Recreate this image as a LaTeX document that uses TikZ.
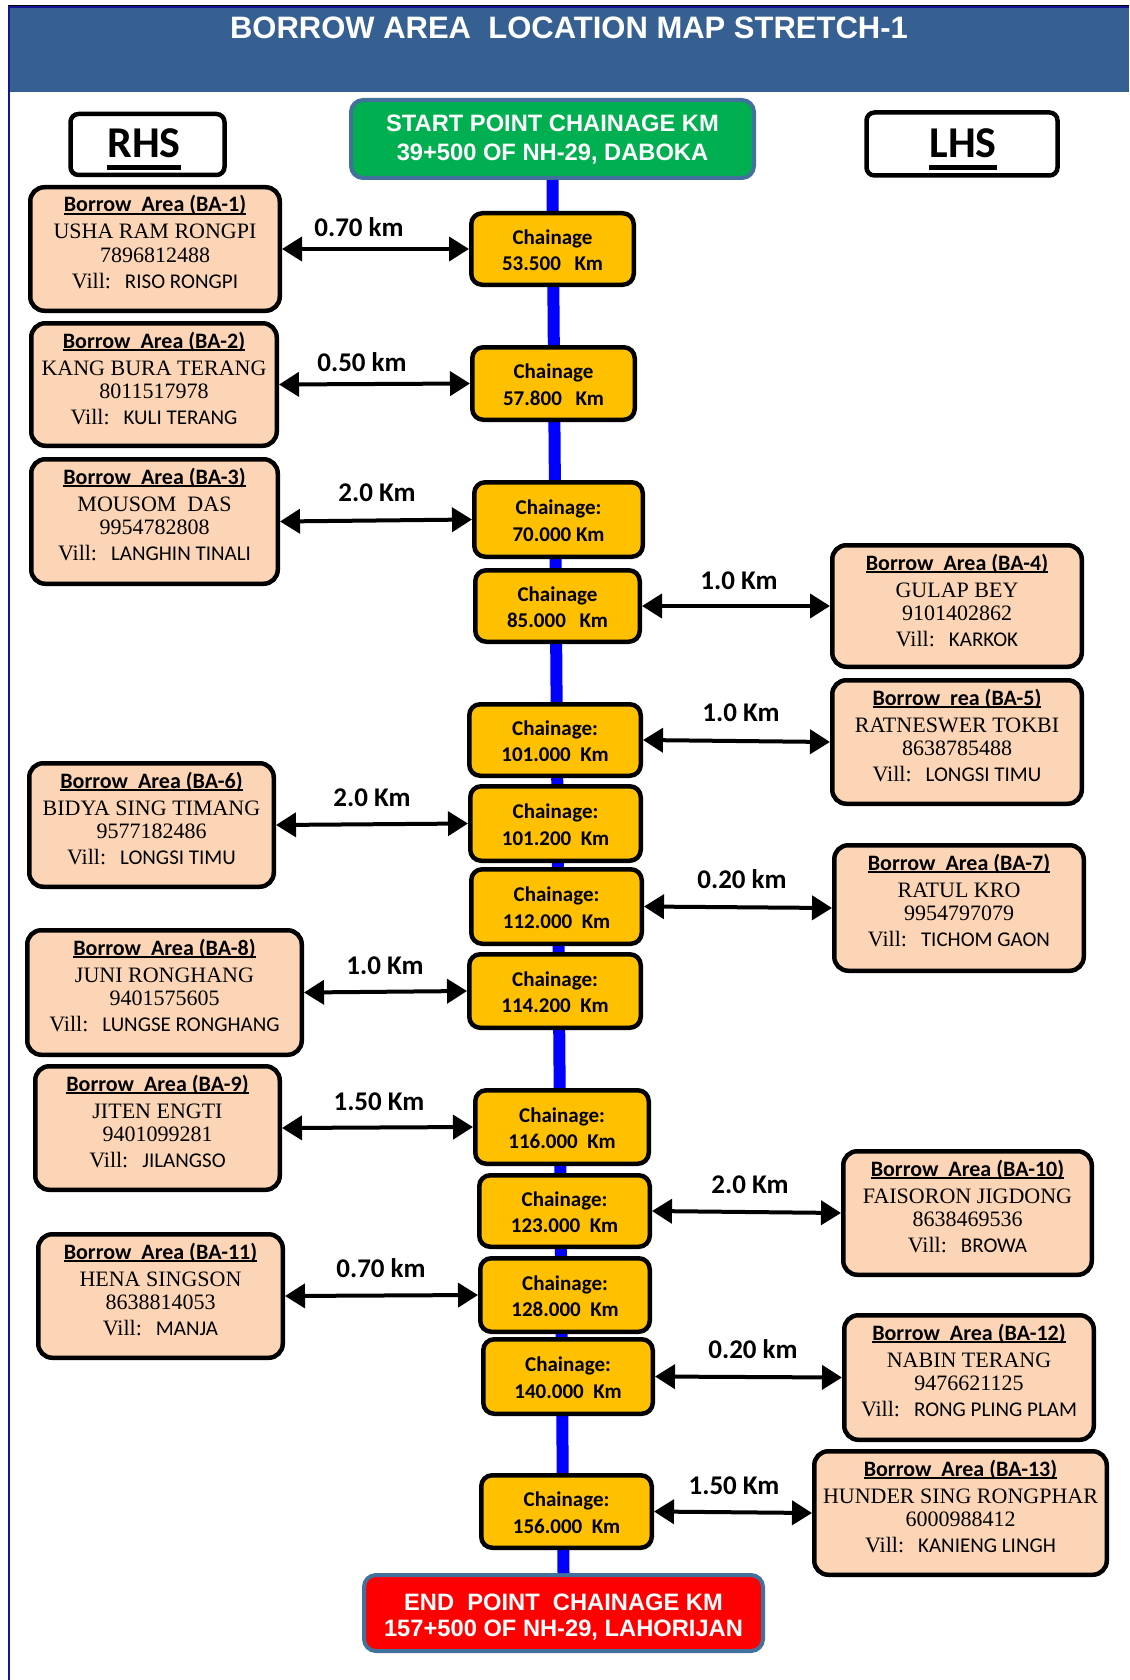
\documentclass[tikz,border=0pt]{standalone}
\usepackage{fontspec}
\setmainfont{Liberation Serif}
\newfontfamily\calib{Carlito}
\newfontfamily\arialf{Liberation Sans}
\usetikzlibrary{arrows.meta}
\definecolor{hdr}{RGB}{55,96,146}
\definecolor{frameblue}{RGB}{20,20,150}
\definecolor{startgreen}{RGB}{0,176,80}
\definecolor{pointedge}{RGB}{65,113,156}
\definecolor{endred}{RGB}{255,0,0}
\definecolor{peach}{RGB}{251,213,181}
\definecolor{chainy}{RGB}{255,192,0}
\definecolor{roadblue}{RGB}{0,0,255}
\newcommand\myul[3]{\setbox0=\hbox{#3}\rlap{\rule[-#1]{\wd0}{#2}}\box0}
\tikzset{
  bbox/.style={draw=black, line width=4.5pt, rounded corners=14pt, fill=peach},
  cbox/.style={draw=black, line width=4.5pt, rounded corners=11pt, fill=chainy},
  sidebox/.style={draw=black, line width=4.5pt, rounded corners=8pt, fill=white},
  pointbox/.style={draw=pointedge, line width=4pt, rounded corners=12pt},
  ttl/.style={anchor=base, inner sep=0pt, font=\calib\bfseries\fontsize{22}{26}\selectfont},
  nm/.style={anchor=base, inner sep=0pt, font=\rmfamily\fontsize{22}{26}\selectfont},
  vl/.style={anchor=base, inner sep=0pt, font=\calib\fontsize{21}{25}\selectfont},
  ct/.style={anchor=base, inner sep=0pt, font=\calib\bfseries\fontsize{21}{25}\selectfont},
  dist/.style={anchor=base, inner sep=0pt, font=\calib\bfseries\fontsize{27}{30}\selectfont},
  pointtxt/.style={anchor=base, inner sep=0pt, text=white, font=\arialf\bfseries\fontsize{23.7}{28}\selectfont},
  sidetxt/.style={anchor=base, inner sep=0pt, font=\calib\bfseries\fontsize{44}{48}\selectfont},
  dbl/.style={line width=4pt, {Triangle[length=20pt,width=24pt]}-{Triangle[length=20pt,width=24pt]}},
}
% borrow area card: name x1 y1 x2 y2 title person phone village
\newcommand\bacard[9]{%
  \node[bbox, minimum width={#4-#2-4.5}, minimum height={#5-#3-4.5}] (#1) at ({(#2+#4)/2},{(#3+#5)/2}) {};
  \node[ttl] (#1t) at ({(#2+#4)/2},{#3+27}) {\myul{3pt}{1.6pt}{#6}};
  \node[nm] (#1n) at ({(#2+#4)/2},{#3+54}) {#7};
  \node[nm] (#1p) at ({(#2+#4)/2},{#3+77}) {#8};
  \node[vl] (#1v) at ({(#2+#4)/2},{#3+103}) {{\rmfamily\fontsize{22}{26}\selectfont Vill:}\hspace{14pt}#9};
}
% chainage box: name x1 y1 x2 y2 line1 line2
\newcommand\chainbox[7]{%
  \node[cbox, minimum width={#4-#2-4.5}, minimum height={#5-#3-4.5}] (#1) at ({(#2+#4)/2},{(#3+#5)/2}) {};
  \node[ct] (#1a) at ({(#2+#4)/2},{(#3+#5)/2-5}) {#6};
  \node[ct] (#1b) at ({(#2+#4)/2},{(#3+#5)/2+21.5}) {#7};
}
\begin{document}
\begin{tikzpicture}[x=1pt,y=-1pt]
\useasboundingbox (0,0) rectangle (1129,1680);
% frame and header
\fill[white] (0,0) rectangle (1129,1680);
\node[fill=hdr, minimum width=1120pt, minimum height=86pt, inner sep=0pt, outer sep=0pt] (header) at (569,49) {};
\draw[frameblue, line width=2pt] (9,1680) -- (9,7) -- (1129,7);
\draw[black, line width=1pt] (8,5.5) -- (1129,5.5);
\node[anchor=base, inner sep=0pt, text=white, font=\arialf\bfseries\fontsize{31}{35}\selectfont] (title) at (569,39) {BORROW AREA\ \ LOCATION MAP STRETCH-1};
% side labels
\node[sidebox, minimum width=154pt, minimum height=61pt] (rhs) at (147.5,144.5) {};
\node[sidetxt] (rhst) at (144,158) {\myul{12pt}{4.5pt}{RHS}};
\node[sidebox, minimum width=191pt, minimum height=63pt] (lhs) at (962,144) {};
\node[sidetxt] (lhst) at (963,158) {\myul{12pt}{4.5pt}{LHS}};
% start and end
\node[pointbox, fill=startgreen, minimum width=403pt, minimum height=78pt] (start) at (552.5,139) {};
\node[pointtxt] (st1) at (552.5,131.5) {START POINT CHAINAGE KM};
\node[pointtxt] (st2) at (552.5,160.5) {39+500 OF NH-29, DABOKA};
\node[pointbox, fill=endred, minimum width=399pt, minimum height=76pt] (end) at (563.5,1613) {};
\node[pointtxt] (en1) at (563.5,1610.5) {END\ \ POINT\ \ CHAINAGE KM};
\node[pointtxt] (en2) at (563.5,1636.5) {157+500 OF NH-29, LAHORIJAN};
% road
\draw[roadblue, line width=12pt] (start.south) -- (end.north);
% chainage boxes
\chainbox{c1}{469}{211}{636}{287}{Chainage}{53.500\hspace{0.65em}Km}
\chainbox{c2}{470}{345}{637}{422}{Chainage}{57.800\hspace{0.65em}Km}
\chainbox{c3}{472}{480}{645}{559}{Chainage:}{70.000 Km}
\chainbox{c4}{473}{568}{642}{644}{Chainage}{85.000\hspace{0.65em}Km}
\chainbox{c5}{467}{702}{643}{778}{Chainage:}{101.000\hspace{0.45em}Km}
\chainbox{c6}{468}{784}{643}{863}{Chainage:}{101.200\hspace{0.45em}Km}
\chainbox{c7}{469}{867}{644}{946}{Chainage:}{112.000\hspace{0.45em}Km}
\chainbox{c8}{467}{952}{643}{1030}{Chainage:}{114.200\hspace{0.45em}Km}
\chainbox{c9}{473}{1088}{651}{1166}{Chainage:}{116.000\hspace{0.45em}Km}
\chainbox{c10}{477}{1173}{652}{1249}{Chainage:}{123.000\hspace{0.45em}Km}
\chainbox{c11}{478}{1256}{652}{1334}{Chainage:}{128.000\hspace{0.45em}Km}
\chainbox{c12}{481}{1337}{655}{1416}{Chainage:}{140.000\hspace{0.45em}Km}
\chainbox{c13}{479}{1473}{654}{1550}{Chainage:}{156.000\hspace{0.45em}Km}
% borrow area cards
\bacard{ba1}{28}{185}{282}{313}{Borrow\ \ Area (BA-1)}{USHA RAM RONGPI}{7896812488}{RISO RONGPI}
\bacard{ba2}{29}{321}{279}{448}{Borrow\ \ Area (BA-2)}{KANG BURA TERANG}{8011517978}{KULI TERANG}
\bacard{ba3}{29}{457}{280}{586}{Borrow\ \ Area (BA-3)}{MOUSOM\ \ DAS}{9954782808}{LANGHIN TINALI}
\bacard{ba4}{830}{543}{1084}{669}{Borrow\ \ Area (BA-4)}{GULAP BEY}{9101402862}{KARKOK}
\bacard{ba5}{830}{678}{1084}{806}{Borrow\ \ rea (BA-5)}{RATNESWER TOKBI}{8638785488}{LONGSI TIMU}
\bacard{ba6}{27}{761}{276}{889}{Borrow\ \ Area (BA-6)}{BIDYA SING TIMANG}{9577182486}{LONGSI TIMU}
\bacard{ba7}{832}{843}{1086}{973}{Borrow\ \ Area (BA-7)}{RATUL KRO}{9954797079}{TICHOM GAON}
\bacard{ba8}{25}{928}{304}{1057}{Borrow\ \ Area (BA-8)}{JUNI RONGHANG}{9401575605}{LUNGSE RONGHANG}
\bacard{ba9}{33}{1064}{282}{1192}{Borrow\ \ Area (BA-9)}{JITEN ENGTI}{9401099281}{JILANGSO}
\bacard{ba10}{841}{1149}{1094}{1277}{Borrow\ \ Area (BA-10)}{FAISORON JIGDONG}{8638469536}{BROWA}
\bacard{ba11}{36}{1232}{285}{1360}{Borrow\ \ Area (BA-11)}{HENA SINGSON}{8638814053}{MANJA}
\bacard{ba12}{842}{1313}{1096}{1442}{Borrow\ \ Area (BA-12)}{NABIN TERANG}{9476621125}{RONG PLING PLAM}
\bacard{ba13}{812}{1449}{1109}{1577}{Borrow\ \ Area (BA-13)}{HUNDER SING RONGPHAR}{6000988412}{KANIENG LINGH}
% connectors
\draw[dbl] (ba1.east) -- (c1.west);
\draw[dbl] (ba2.east) -- (c2.west);
\draw[dbl] (ba3.east) -- (c3.west);
\draw[dbl] (c4.east) -- (ba4.west);
\draw[dbl] (c5.east) -- (ba5.west);
\draw[dbl] (ba6.east) -- (c6.west);
\draw[dbl] (c7.east) -- (ba7.west);
\draw[dbl] (ba8.east) -- (c8.west);
\draw[dbl] (ba9.east) -- (c9.west);
\draw[dbl] (c10.east) -- (ba10.west);
\draw[dbl] (ba11.east) -- (c11.west);
\draw[dbl] (c12.east) -- (ba12.west);
\draw[dbl] (c13.east) -- (ba13.west);
% distance labels
\node[dist] (d1) at (359,236.5) {0.70 km};
\node[dist] (d2) at (362,371.5) {0.50 km};
\node[dist] (d3) at (377,501.5) {2.0 Km};
\node[dist] (d4) at (739,589.5) {1.0 Km};
\node[dist] (d5) at (741,721.5) {1.0 Km};
\node[dist] (d6) at (372,806) {2.0 Km};
\node[dist] (d7) at (742,888.5) {0.20 km};
\node[dist] (d8) at (385,974) {1.0 Km};
\node[dist] (d9) at (379,1110.5) {1.50 Km};
\node[dist] (d10) at (750,1193.5) {2.0 Km};
\node[dist] (d11) at (381,1277.5) {0.70 km};
\node[dist] (d12) at (753,1358.5) {0.20 km};
\node[dist] (d13) at (734,1494.5) {1.50 Km};
\end{tikzpicture}
\end{document}
